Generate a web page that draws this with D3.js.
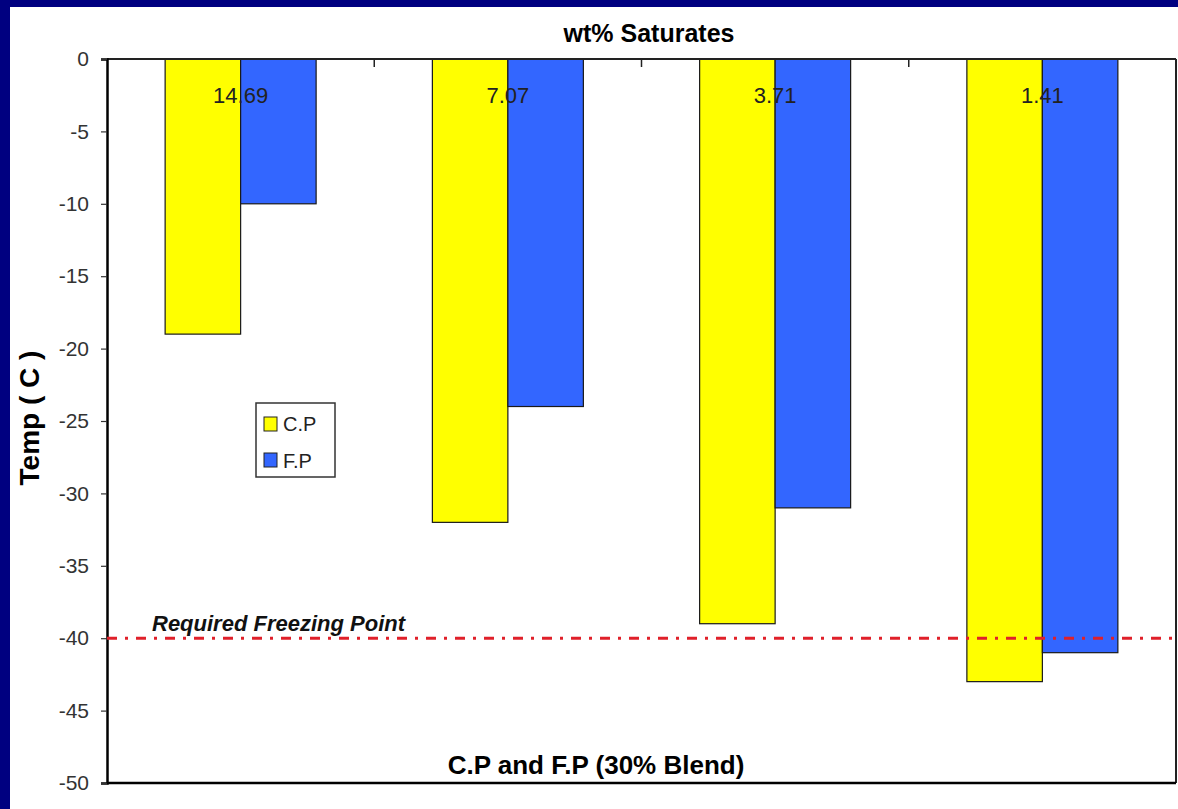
<!DOCTYPE html>
<html>
<head>
<meta charset="utf-8">
<script src="https://cdn.jsdelivr.net/npm/d3@7/dist/d3.min.js"></script>
<style>
  html, body { margin: 0; padding: 0; background: #000080; }
  svg { display: block; }
</style>
</head>
<body>
<svg id="chart" width="1178" height="809"></svg>
<script>
// Blend categories (wt% saturates) and the two measured temperatures
const categories = ["14.69", "7.07", "3.71", "1.41"];
const cloudPoint = [-19, -32, -39, -43];
const freezePoint = [-10, -24, -31, -41];
const seriesNames = ["C.P", "F.P"];
const seriesColors = ["#ffff00", "#3366ff"];
const yTicks = [0, -5, -10, -15, -20, -25, -30, -35, -40, -45, -50];
const requiredFreezingPoint = -40;

const FONT = "Arial, 'Liberation Sans', sans-serif";
const svg = d3.select("#chart");
const W = 1178, H = 809;

// white page inside the navy frame
svg.append("rect").attr("x", 10).attr("y", 7).attr("width", W - 10).attr("height", H - 7)
  .attr("fill", "#ffffff");

const plot = { left: 107, right: 1176, top: 59, bottom: 783 };

const x0 = d3.scaleBand().domain(categories).range([plot.left, plot.right])
  .paddingInner(0.435).paddingOuter(0.2175);
const x1 = d3.scaleBand().domain(seriesNames).range([0, x0.bandwidth()]);
const y = d3.scaleLinear().domain([0, -50]).range([plot.top, plot.bottom]);

const rows = categories.map((c, i) => ({ cat: c, values: [cloudPoint[i], freezePoint[i]] }));

// bars
const groups = svg.append("g").selectAll("g").data(rows).join("g")
  .attr("transform", d => `translate(${x0(d.cat)},0)`);
groups.selectAll("rect").data(d => d.values.map((v, k) => ({ v, k })))
  .join("rect")
  .attr("x", d => x1(seriesNames[d.k]))
  .attr("y", y(0))
  .attr("width", x1.bandwidth())
  .attr("height", d => y(d.v) - y(0))
  .attr("fill", d => seriesColors[d.k])
  .attr("stroke", "#1a1a1a")
  .attr("stroke-width", 1.2);

// frame: top and right edges
svg.append("line").attr("x1", plot.left).attr("x2", plot.right).attr("y1", plot.top).attr("y2", plot.top)
  .attr("stroke", "#222").attr("stroke-width", 2);
svg.append("line").attr("x1", plot.right).attr("x2", plot.right).attr("y1", plot.top).attr("y2", plot.bottom)
  .attr("stroke", "#222").attr("stroke-width", 2);

// category labels along the top of the plot
const xAxis = d3.axisTop(x0).tickSize(0).tickPadding(0);
const xg = svg.append("g").attr("transform", `translate(0,${plot.top})`).call(xAxis);
xg.select(".domain").remove();
xg.selectAll("text").attr("dy", 0).attr("y", 44)
  .attr("font-family", FONT).attr("font-size", 22)
  .attr("fill", "#222").attr("text-anchor", "middle");
// band separators, pointing into the plot
const step = x0.step();
const seps = categories.slice(1).map(c => x0(c) - x0.paddingInner() * step / 2);
svg.append("g").selectAll("line").data(seps).join("line")
  .attr("x1", d => d).attr("x2", d => d)
  .attr("y1", plot.top).attr("y2", plot.top + 8)
  .attr("stroke", "#222").attr("stroke-width", 1.5);

// value axis
const yAxis = d3.axisLeft(y).tickValues(yTicks).tickSize(6).tickPadding(12).tickFormat(d => String(d));
const yg = svg.append("g").attr("transform", `translate(${plot.left},0)`).call(yAxis);
yg.select(".domain").attr("stroke", "#000").attr("stroke-width", 2.5);
yg.selectAll(".tick line").attr("stroke", "#333").attr("stroke-width", 1.2);
yg.selectAll("text").attr("font-family", FONT)
  .attr("font-size", 21).attr("fill", "#333");

// bottom axis line
svg.append("line").attr("x1", plot.left).attr("x2", plot.right).attr("y1", plot.bottom).attr("y2", plot.bottom)
  .attr("stroke", "#000").attr("stroke-width", 2.5);

// required freezing point reference line
svg.append("line")
  .attr("x1", plot.left).attr("x2", plot.right)
  .attr("y1", y(requiredFreezingPoint)).attr("y2", y(requiredFreezingPoint))
  .attr("stroke", "#e0202a").attr("stroke-width", 3)
  .attr("stroke-dasharray", "10,8,3,8");
svg.append("text").attr("x", 152).attr("y", y(requiredFreezingPoint) - 7)
  .attr("font-family", FONT).attr("font-size", 22)
  .attr("font-style", "italic").attr("font-weight", "bold").attr("fill", "#111")
  .text("Required Freezing Point");

// titles
svg.append("text").attr("x", 649).attr("y", 42).attr("text-anchor", "middle")
  .attr("font-family", FONT).attr("font-size", 25)
  .attr("font-weight", "bold").attr("fill", "#000").text("wt% Saturates");
svg.append("text").attr("x", 596).attr("y", 774).attr("text-anchor", "middle")
  .attr("font-family", FONT).attr("font-size", 26)
  .attr("font-weight", "bold").attr("fill", "#000").text("C.P and F.P (30% Blend)");
svg.append("text").attr("transform", `translate(39,418) rotate(-90)`).attr("text-anchor", "middle")
  .attr("font-family", FONT).attr("font-size", 28)
  .attr("font-weight", "bold").attr("fill", "#000").text("Temp ( C )");

// legend
const lg = svg.append("g").attr("transform", "translate(256,403)");
lg.append("rect").attr("width", 79).attr("height", 74).attr("fill", "#fff")
  .attr("stroke", "#333").attr("stroke-width", 1.5);
seriesNames.forEach((name, i) => {
  lg.append("rect").attr("x", 8).attr("y", 14 + i * 36).attr("width", 13).attr("height", 14)
    .attr("fill", seriesColors[i]).attr("stroke", "#222").attr("stroke-width", 1);
  lg.append("text").attr("x", 27).attr("y", 28 + i * 37)
    .attr("font-family", FONT).attr("font-size", 20)
    .attr("fill", "#222").text(name);
});
</script>
</body>
</html>
